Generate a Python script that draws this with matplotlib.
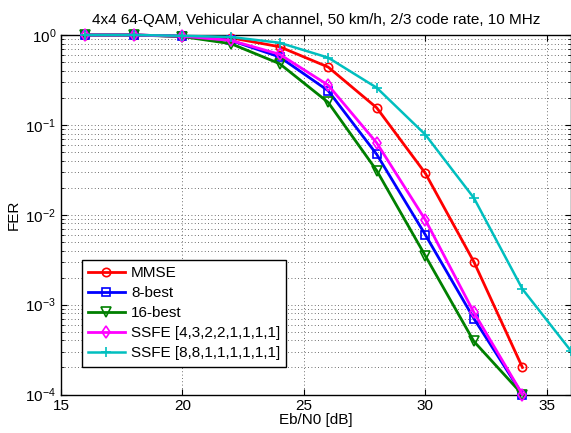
import numpy as np
import matplotlib
matplotlib.use("Agg")
import matplotlib.pyplot as plt

plt.rcParams['font.family'] = ['Liberation Sans', 'DejaVu Sans']
plt.rcParams['mathtext.fontset'] = 'custom'
plt.rcParams['mathtext.rm'] = 'Liberation Sans'
plt.rcParams['mathtext.it'] = 'Liberation Sans'

# Eb/N0 points [dB]
snr = [16, 18, 20, 22, 24, 26, 28, 30, 32, 34, 36]

fer_mmse = [1.0, 1.0, 0.97, 0.93, 0.74, 0.44, 0.155, 0.029, 0.003, 2.0e-4]
fer_8best = [1.0, 1.0, 0.97, 0.87, 0.57, 0.24, 0.047, 0.006, 7.0e-4, 1.0e-4]
fer_16best = [1.0, 1.0, 0.96, 0.80, 0.48, 0.178, 0.031, 0.0035, 3.9e-4, 1.0e-4]
fer_ssfe1 = [1.0, 1.0, 0.97, 0.87, 0.61, 0.277, 0.063, 0.0088, 8.2e-4, 1.0e-4]
fer_ssfe2 = [1.0, 1.0, 0.98, 0.95, 0.82, 0.56, 0.259, 0.078, 0.0154, 0.00149, 3.05e-4]

labels = ["MMSE", "8-best", "16-best", "SSFE [4,3,2,2,1,1,1,1]", "SSFE [8,8,1,1,1,1,1,1]"]

fig = plt.figure(figsize=(5.71, 4.33), dpi=100)
ax = fig.add_axes([61 / 571, 1 - 394.5 / 433, 1 - 61 / 571, (394.5 - 35) / 433])

ax.semilogy(snr[:10], fer_mmse, color=(1, 0, 0), marker="o", lw=2, ms=6,
            mfc="none", mew=1.2, label=labels[0], clip_on=False, zorder=5)
ax.semilogy(snr[:10], fer_8best, color=(0, 0, 1), marker="s", lw=2, ms=5.5,
            mfc="none", mew=1.2, label=labels[1], clip_on=False, zorder=5)
ax.semilogy(snr[:10], fer_16best, color=(0, 0.5, 0), marker="v", lw=2, ms=6.5,
            mfc="none", mew=1.2, label=labels[2], clip_on=False, zorder=5)
ax.semilogy(snr[:10], fer_ssfe1, color=(1, 0, 1), marker="d", lw=2, ms=6.5,
            mfc="none", mew=1.2, label=labels[3], clip_on=False, zorder=5)
ax.semilogy(snr, fer_ssfe2, color=(0, 0.75, 0.75), marker="+", lw=1.8, ms=7,
            mew=1.2, label=labels[4], clip_on=False, zorder=5)

ax.set_xlim(15, 36)
ax.set_ylim(1e-4, 1)
ax.set_xticks([15, 20, 25, 30, 35])
ax.set_yticks([1e-4, 1e-3, 1e-2, 1e-1, 1])

ax.tick_params(which="both", direction="in", top=True, right=True, labelsize=11)
ax.tick_params(which="major", length=4)
ax.tick_params(which="minor", length=2)
ax.grid(True, which="major", linestyle=(0, (1, 3)), color="0.25", lw=0.6)
ax.grid(True, which="minor", axis="y", linestyle=(0, (1, 3)), color="0.25", lw=0.6)
for s in ax.spines.values():
    s.set_linewidth(1.0)

ax.set_title("4x4 64-QAM, Vehicular A channel, 50 km/h, 2/3 code rate, 10 MHz",
             fontsize=11, pad=8)
ax.set_xlabel("Eb/N0 [dB]", fontsize=11, labelpad=0)
ax.set_ylabel("FER", fontsize=11, labelpad=3)

leg = ax.legend(loc="lower left", bbox_to_anchor=(21 / 510, 28 / 359.5),
                borderaxespad=0, fancybox=False, framealpha=1, edgecolor="black",
                fontsize=11, handlelength=2.4, handletextpad=0.4,
                labelspacing=0.4, borderpad=0.4)
leg.get_frame().set_linewidth(1.0)
leg.set_zorder(10)

fig.savefig("out.png", dpi=100)
